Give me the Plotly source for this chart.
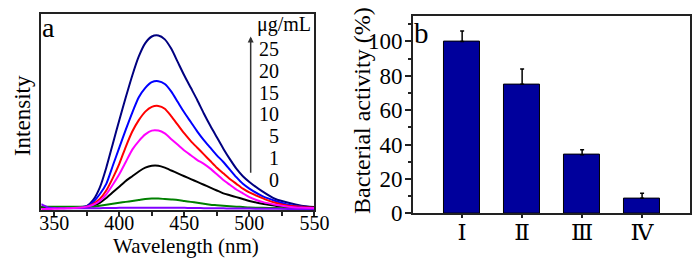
import plotly.graph_objects as go

# ---------------- Panel a: fluorescence spectra ----------------
wavelength = [340, 345, 350, 355, 360, 365, 370, 375, 380, 385, 390, 395, 400, 405, 410,
              415, 420, 425, 430, 435, 440, 445, 450, 455, 460, 465, 470, 475, 480, 485,
              490, 495, 500, 510, 520, 530, 540, 550]

int_25 = [1.5, 1.5, 1.5, 1.5, 1.5, 1.5, 1.5, 2.5, 9, 22, 43, 68, 93, 117, 140,
          160, 174, 181, 182, 178, 168, 154, 140, 127, 114, 100, 87, 75, 63, 52,
          42, 34, 28, 18, 10, 6, 3, 1.5]
int_20 = [1.5, 1.5, 1.5, 1.5, 1.5, 1.5, 1.5, 2.5, 7, 15, 26, 45, 64, 83, 101,
          117, 127, 133, 134, 131, 123, 112, 101, 91, 81, 72, 64, 56, 49, 41,
          33, 26, 21, 13, 8, 4, 2, 1]
int_15 = [1.5, 1.5, 1.5, 1.5, 1.5, 1.5, 1.5, 2, 5, 10, 19, 32, 47, 65, 81,
          93, 102, 107, 108, 105, 97, 88, 79, 71, 64, 57, 50, 43, 37, 31,
          26, 21, 17, 11, 6, 3, 2, 1]
int_10 = [-0.5, -0.5, -0.3, 0, 0.3, 0.5, 1, 2, 4, 8, 15, 25, 36, 49, 62,
          71, 78, 82, 82, 79, 73, 67, 61, 56, 51, 47, 42, 36, 30, 25,
          20, 16, 12, 7, 4, 2, 1, 0.5]
int_5 = [1, 1, 1, 1, 1, 1, 1, 1, 3, 6, 11, 17, 23, 29, 34,
         39, 43, 45, 45, 43, 40, 37, 34, 31, 28, 25, 22, 19, 16, 14,
         12, 10, 8, 5, 3, 1, 1, 1]
int_1 = [1.8, 1.8, 1.8, 1.8, 1.8, 1.8, 1.8, 2, 2, 3, 4, 5, 6, 7, 8,
         9, 10, 10.5, 10.5, 10, 9.5, 9, 8, 7, 6, 5, 4, 3.5, 3, 2.5,
         2, 1.5, 1, 0.8, 0.5, 0.3, 0.2, 0]
int_0 = [4.5, 1.2, 0.6, 0.4, 0.3, 0.3, 0.3, 0.3, 0.3, 0.4, 0.5, 0.6, 0.7, 0.8, 0.8,
         0.9, 0.9, 0.9, 0.9, 0.9, 0.8, 0.8, 0.7, 0.6, 0.5, 0.4, 0.4, 0.3, 0.2, 0.1,
         0, 0, -0.1, -0.2, -0.3, -0.4, -0.5, -0.5]

conc_labels = ["25", "20", "15", "10", "5", "1", "0"]

# ---------------- Panel b: bacterial activity ----------------
groups = ["Ⅰ", "Ⅱ", "Ⅲ", "Ⅳ"]
activity = [100, 75, 34, 8.7]
activity_err = [6, 9, 3, 3]

FONT = "Liberation Serif"
ROMAN_FONT = "DejaVu Serif"

fig = go.Figure()

series = [
    (int_25, "#000080"),
    (int_20, "#0000FF"),
    (int_15, "#FF0000"),
    (int_5, "#000000"),
    (int_1, "#008000"),
    (int_0, "#8000FF"),
    (int_10, "#FF00FF"),
]
for ys, col in series:
    fig.add_trace(go.Scatter(x=wavelength, y=ys, mode="lines",
                             line=dict(color=col, width=2, shape="spline", smoothing=0.6),
                             xaxis="x", yaxis="y", showlegend=False, hoverinfo="skip"))

fig.add_trace(go.Bar(x=groups, y=activity, width=0.6,
                     marker=dict(color="#00009C", line=dict(color="black", width=1)),
                     error_y=dict(type="data", symmetric=False, array=activity_err,
                                  arrayminus=[0, 0, 0, 0], color="black", thickness=1.5, width=2),
                     xaxis="x2", yaxis="y2", showlegend=False))

W, H = 700, 262
def px(x):
    return x / W
def py(y):
    return 1 - y / H

fig.update_layout(
    width=W, height=H,
    margin=dict(l=0, r=0, t=0, b=0),
    paper_bgcolor="white", plot_bgcolor="white",
    font=dict(family=FONT, color="black", size=21),
    xaxis=dict(domain=[px(32), px(312)], range=[340, 550], anchor="y",
               showline=True, mirror=True, linecolor="#222", linewidth=1.5,
               ticks="outside", ticklen=4, tickwidth=1.5, tickcolor="#222",
               tick0=350, dtick=50, showgrid=False, zeroline=False,
               minor=dict(dtick=25, ticks="outside", ticklen=4, tickwidth=1.5, tickcolor="#222", showgrid=False),
               tickfont=dict(size=20, family=FONT, color="black"), ticklabelstandoff=-10),
    yaxis=dict(domain=[py(213), py(6)], range=[-2, 205], anchor="x",
               showline=True, mirror=True, linecolor="#222", linewidth=1.5,
               ticks="", showticklabels=False, showgrid=False, zeroline=False),
    xaxis2=dict(domain=[px(413), px(697)], range=[-0.82, 3.8], anchor="y2",
                showline=True, mirror=True, linecolor="#222", linewidth=1.5,
                ticks="outside", ticklen=3, tickwidth=1.5, tickcolor="#222",
                showgrid=False, zeroline=False, ticklabelstandoff=-6,
                tickfont=dict(size=23, family=ROMAN_FONT, color="black")),
    yaxis2=dict(domain=[py(216), py(8)], range=[0, 115], anchor="x2",
                showline=True, mirror=True, linecolor="#222", linewidth=1.5,
                ticks="outside", ticklen=6, tickwidth=1.5, tickcolor="#222",
                dtick=20, showgrid=False, zeroline=False, ticklabelstandoff=-2,
                minor=dict(dtick=10, ticks="outside", ticklen=3, tickwidth=1.5, tickcolor="#222", showgrid=False),
                tickfont=dict(size=23, family=FONT, color="black")),
    bargap=0,
)

ann = []
# axis titles
ann.append(dict(text="Intensity", x=px(13), y=py(113), xref="paper", yref="paper",
                textangle=-90, showarrow=False, font=dict(size=23, family=FONT),
                xanchor="center", yanchor="middle"))
ann.append(dict(text="Wavelength (nm)", x=px(180), y=py(250), xref="paper", yref="paper",
                showarrow=False, font=dict(size=21, family=FONT),
                xanchor="center", yanchor="middle"))
ann.append(dict(text="Bacterial activity (%)", x=px(360), y=py(108), xref="paper", yref="paper",
                textangle=-90, showarrow=False, font=dict(size=24, family=FONT),
                xanchor="center", yanchor="middle"))
# panel letters
ann.append(dict(text="a", x=px(39), y=py(21), xref="paper", yref="paper",
                showarrow=False, font=dict(size=28, family=FONT), xanchor="center", yanchor="middle"))
ann.append(dict(text="b", x=px(422), y=py(26), xref="paper", yref="paper",
                showarrow=False, font=dict(size=29, family=FONT), xanchor="center", yanchor="middle"))
# concentration legend
ann.append(dict(text="μg/mL", x=px(311), y=py(17), xref="paper", yref="paper",
                showarrow=False, font=dict(size=20, family=FONT), xanchor="right", yanchor="middle"))
label_y = [43, 66, 89, 112, 135, 158, 181]
for lab, yy in zip(conc_labels, label_y):
    ann.append(dict(text=lab, x=px(278), y=py(yy), xref="paper", yref="paper",
                    showarrow=False, font=dict(size=20, family=FONT), xanchor="right", yanchor="middle"))
# arrow
ann.append(dict(x=501, y=181, ax=501, ay=36, xref="x", yref="y", axref="x", ayref="y",
                text="", showarrow=True, arrowhead=2, arrowsize=0.8, arrowwidth=1.5,
                arrowcolor="#333"))

fig.update_layout(annotations=ann)

fig.write_html("out.html")
